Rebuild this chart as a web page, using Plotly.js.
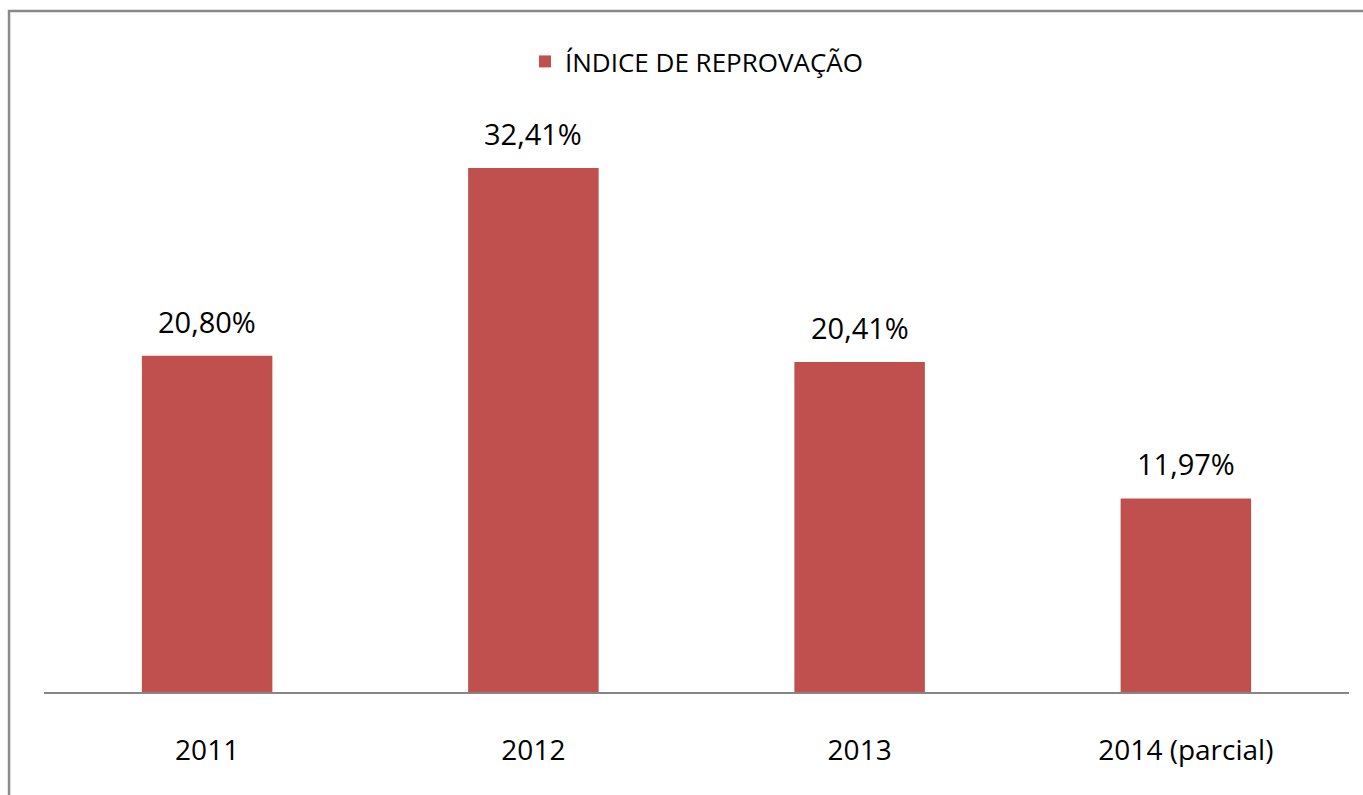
<!DOCTYPE html>
<html>
<head>
<meta charset="utf-8">
<script src="https://cdn.plot.ly/plotly-3.0.1.min.js"></script>
<style>html,body{margin:0;padding:0;background:#fff;}#chart{width:1363px;height:795px;}</style>
</head>
<body>
<div id="chart"></div>
<script>
const categories = ['2011', '2012', '2013', '2014 (parcial)'];
const values = [20.80, 32.41, 20.41, 11.97];
const labels = ['20,80%', '32,41%', '20,41%', '11,97%'];
const seriesName = 'ÍNDICE DE REPROVAÇÃO';

const FONT = 'Open Sans, sans-serif';

const trace = {
  type: 'bar',
  x: categories,
  y: values,
  name: seriesName,
  marker: {color: '#C0504D'},
  hoverinfo: 'skip'
};

const annotations = categories.map((c, i) => ({
  x: i, y: values[i], xref: 'x', yref: 'y',
  text: labels[i], showarrow: false,
  yanchor: 'bottom', yshift: 13,
  font: {family: FONT, size: 29, color: '#000'}
}));

const layout = {
  width: 1363, height: 795,
  margin: {l: 44, r: 14, t: 100, b: 103},
  paper_bgcolor: '#fff', plot_bgcolor: '#fff',
  bargap: 0.6,
  showlegend: true,
  legend: {
    orientation: 'h', x: 0.5, xanchor: 'center', y: 1.065, yanchor: 'middle',
    font: {family: FONT, size: 26, color: '#000'},
    itemwidth: 30
  },
  xaxis: {
    type: 'category',
    categoryorder: 'array', categoryarray: categories,
    range: [-0.5, categories.length - 0.5],
    showline: true, linecolor: '#868686', linewidth: 2,
    ticks: '', showgrid: false, zeroline: false,
    ticklabelstandoff: 32,
    tickfont: {family: FONT, size: 28, color: '#000'}
  },
  yaxis: {
    range: [0, 36.61], visible: false, showgrid: false, zeroline: false
  },
  annotations: annotations,
  shapes: [{
    type: 'rect', xref: 'paper', yref: 'paper',
    x0: -0.0268, x1: 1.2, y0: -0.4, y1: 1.1503,
    line: {color: '#898989', width: 2.5}, fillcolor: 'rgba(0,0,0,0)', layer: 'below'
  }]
};

Plotly.newPlot('chart', [trace], layout, {displayModeBar: false, staticPlot: true});
</script>
</body>
</html>
